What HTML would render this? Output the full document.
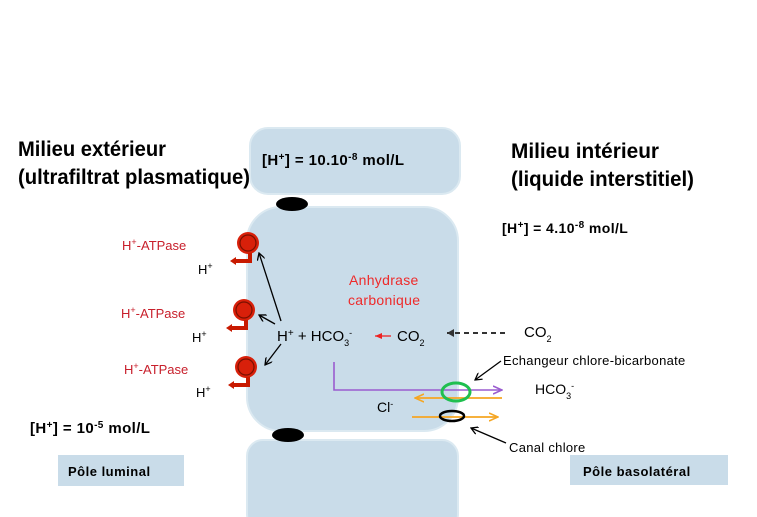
<!DOCTYPE html>
<html><head><meta charset="utf-8"><style>
body{margin:0;background:#fff;width:757px;height:517px;overflow:hidden}
svg{display:block}
.t{font-family:"Liberation Sans",sans-serif}
</style></head><body>
<svg width="757" height="517" viewBox="0 0 757 517" xmlns="http://www.w3.org/2000/svg">
<defs>
<marker id="ab" markerWidth="8" markerHeight="8" refX="7" refY="4" orient="auto" markerUnits="userSpaceOnUse"><path d="M0,0 L7,4 L0,8" fill="none" stroke="#000" stroke-width="1.3"/></marker>
<marker id="ar" markerWidth="8" markerHeight="8" refX="7" refY="4" orient="auto" markerUnits="userSpaceOnUse"><path d="M0,1 L7,4 L0,7 Z" fill="#e22"/></marker>
<marker id="ap" markerWidth="10" markerHeight="10" refX="9" refY="5" orient="auto" markerUnits="userSpaceOnUse"><path d="M0,1 L9,5 L0,9" fill="none" stroke="#9a5ccf" stroke-width="1.6"/></marker>
<marker id="ao" markerWidth="10" markerHeight="10" refX="9" refY="5" orient="auto" markerUnits="userSpaceOnUse"><path d="M0,1 L9,5 L0,9" fill="none" stroke="#f5a623" stroke-width="1.6"/></marker>
<marker id="ad" markerWidth="8" markerHeight="8" refX="7" refY="4" orient="auto" markerUnits="userSpaceOnUse"><path d="M0,0 L7,4 L0,8 Z" fill="#333"/></marker>
</defs>
<g fill="#c9dce9" stroke="#dbe9f1" stroke-width="2">
<rect x="250" y="128" width="210" height="66" rx="18"/>
<rect x="247" y="207" width="211" height="224" rx="34"/>
<rect x="247" y="440" width="211" height="90" rx="16"/>
</g>
<ellipse cx="292" cy="204" rx="16" ry="7"/>
<ellipse cx="288" cy="435" rx="16" ry="7"/>
<rect x="58" y="455" width="126" height="31" fill="#c9dce9"/>
<rect x="570" y="455" width="158" height="30" fill="#c9dce9"/>
<g class="t">
<text x="18" y="156" font-size="21" font-weight="bold" textLength="148" lengthAdjust="spacingAndGlyphs">Milieu extérieur</text>
<text x="18" y="184" font-size="21" font-weight="bold" textLength="232" lengthAdjust="spacingAndGlyphs">(ultrafiltrat plasmatique)</text>
<text x="511" y="158" font-size="21" font-weight="bold" textLength="148" lengthAdjust="spacingAndGlyphs">Milieu intérieur</text>
<text x="511" y="186" font-size="21" font-weight="bold" textLength="183" lengthAdjust="spacingAndGlyphs">(liquide interstitiel)</text>
<text x="262" y="165" font-size="15" font-weight="bold" letter-spacing="0.4">[H<tspan baseline-shift="super" font-size="10">+</tspan>] = 10.10<tspan baseline-shift="super" font-size="10">-8</tspan> mol/L</text>
<text x="502" y="233" font-size="14" font-weight="bold" letter-spacing="0.4">[H<tspan baseline-shift="super" font-size="10">+</tspan>] = 4.10<tspan baseline-shift="super" font-size="10">-8</tspan> mol/L</text>
<text x="30" y="433" font-size="15" font-weight="bold" letter-spacing="0.4">[H<tspan baseline-shift="super" font-size="10">+</tspan>] = 10<tspan baseline-shift="super" font-size="10">-5</tspan> mol/L</text>
<text x="68" y="476" font-size="13" font-weight="bold" letter-spacing="0.5">Pôle luminal</text>
<text x="583" y="476" font-size="13" font-weight="bold" letter-spacing="0.5">Pôle basolatéral</text>
<g fill="#c8202c" font-size="13">
<text x="122" y="250">H<tspan baseline-shift="super" font-size="9">+</tspan>-ATPase</text>
<text x="121" y="318">H<tspan baseline-shift="super" font-size="9">+</tspan>-ATPase</text>
<text x="124" y="374">H<tspan baseline-shift="super" font-size="9">+</tspan>-ATPase</text>
</g>
<g font-size="13">
<text x="198" y="274">H<tspan baseline-shift="super" font-size="9">+</tspan></text>
<text x="192" y="342">H<tspan baseline-shift="super" font-size="9">+</tspan></text>
<text x="196" y="397">H<tspan baseline-shift="super" font-size="9">+</tspan></text>
</g>
<text x="349" y="285" font-size="14" fill="#ee2a2a" letter-spacing="0.3">Anhydrase</text>
<text x="348" y="305" font-size="14" fill="#ee2a2a" letter-spacing="0.3">carbonique</text>
<text x="277" y="341" font-size="15">H<tspan baseline-shift="super" font-size="10">+</tspan> + HCO<tspan baseline-shift="sub" font-size="9">3</tspan><tspan baseline-shift="super" font-size="9">-</tspan></text>
<text x="397" y="341" font-size="15">CO<tspan baseline-shift="sub" font-size="9">2</tspan></text>
<text x="524" y="337" font-size="15">CO<tspan baseline-shift="sub" font-size="9">2</tspan></text>
<text x="503" y="365" font-size="13" letter-spacing="0.3">Echangeur chlore-bicarbonate</text>
<text x="535" y="394" font-size="14">HCO<tspan baseline-shift="sub" font-size="9">3</tspan><tspan baseline-shift="super" font-size="9">-</tspan></text>
<text x="377" y="412" font-size="14">Cl<tspan baseline-shift="super" font-size="9">-</tspan></text>
<text x="509" y="452" font-size="13" letter-spacing="0.3">Canal chlore</text>
</g>
<g>
<g transform="translate(248,243)"><circle r="11" fill="#d8200a"/><circle r="8" fill="none" stroke="#7a1000" stroke-width="1.2"/><path d="M2,10 v8 h-16" fill="none" stroke="#c81a00" stroke-width="4"/><path d="M-12,14 l-6,4 l6,4 z" fill="#c81a00"/></g>
<g transform="translate(244,310)"><circle r="11" fill="#d8200a"/><circle r="8" fill="none" stroke="#7a1000" stroke-width="1.2"/><path d="M2,10 v8 h-16" fill="none" stroke="#c81a00" stroke-width="4"/><path d="M-12,14 l-6,4 l6,4 z" fill="#c81a00"/></g>
<g transform="translate(246,367)"><circle r="11" fill="#d8200a"/><circle r="8" fill="none" stroke="#7a1000" stroke-width="1.2"/><path d="M2,10 v8 h-16" fill="none" stroke="#c81a00" stroke-width="4"/><path d="M-12,14 l-6,4 l6,4 z" fill="#c81a00"/></g>
</g>
<g stroke="#000" stroke-width="1.3" fill="none">
<line x1="281" y1="321" x2="259" y2="253" marker-end="url(#ab)"/>
<line x1="275" y1="324" x2="259" y2="315" marker-end="url(#ab)"/>
<line x1="281" y1="344" x2="265" y2="365" marker-end="url(#ab)"/>
<line x1="501" y1="361" x2="475" y2="380" marker-end="url(#ab)"/>
<line x1="506" y1="443" x2="471" y2="428" marker-end="url(#ab)"/>
</g>
<line x1="391" y1="336" x2="375" y2="336" stroke="#e22" stroke-width="1.3" marker-end="url(#ar)"/>
<line x1="505" y1="333" x2="447" y2="333" stroke="#333" stroke-width="2" stroke-dasharray="5,4" marker-end="url(#ad)"/>
<polyline points="334,362 334,390 502,390" fill="none" stroke="#9a5ccf" stroke-width="1.6" marker-end="url(#ap)"/>
<line x1="502" y1="398" x2="415" y2="398" stroke="#f5a623" stroke-width="1.8" marker-end="url(#ao)"/>
<line x1="412" y1="417" x2="498" y2="417" stroke="#f5a623" stroke-width="1.8" marker-end="url(#ao)"/>
<ellipse cx="456" cy="392" rx="14" ry="9" fill="none" stroke="#1fbf4f" stroke-width="3"/>
<ellipse cx="452" cy="416" rx="12" ry="5" fill="none" stroke="#000" stroke-width="2.5"/>
</svg>
</body></html>
